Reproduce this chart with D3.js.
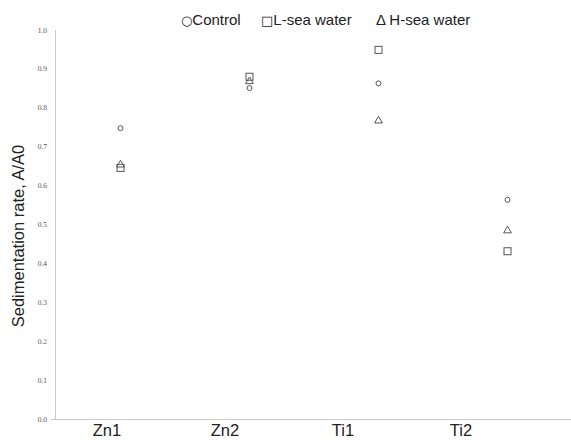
<!DOCTYPE html>
<html>
<head>
<meta charset="utf-8">
<script src="https://cdn.jsdelivr.net/npm/d3@7"></script>
<style>
  body { margin: 0; background: #fff; }
  svg { display: block; }
</style>
</head>
<body>
<div id="chart"></div>
<script>
// данные с графика
const categories = ['Zn1', 'Zn2', 'Ti1', 'Ti2'];
const control = [0.748, 0.851, 0.863, 0.564];
const lSea = [0.646, 0.880, 0.949, 0.432];
const hSea = [0.654, 0.868, 0.767, 0.485];
const yTicks = [0, 0.1, 0.2, 0.3, 0.4, 0.5, 0.6, 0.7, 0.8, 0.9, 1.0];

const width = 571, height = 440;
const svg = d3.select('#chart').append('svg')
  .attr('width', width)
  .attr('height', height);

const y = d3.scaleLinear().domain([0, 1]).range([419.5, 30]);
// точки и подписи стоят немного по-разному, как в оригинале
const xPts = d3.scalePoint().domain(categories).range([120.5, 507.5]);
const xLbl = d3.scalePoint().domain(categories).range([107, 461]);

// оси
svg.append('line')
  .attr('x1', 55.5).attr('x2', 55.5)
  .attr('y1', y(1)).attr('y2', y(0))
  .attr('stroke', '#c8c8c8').attr('stroke-width', 1);
svg.append('line')
  .attr('x1', 51).attr('x2', width)
  .attr('y1', y(0)).attr('y2', y(0))
  .attr('stroke', '#c8c8c8').attr('stroke-width', 1);

svg.append('g').selectAll('text')
  .data(yTicks)
  .join('text')
  .attr('x', 47)
  .attr('y', d => y(d) + 2.5)
  .attr('text-anchor', 'end')
  .attr('font-family', 'Liberation Serif, serif')
  .attr('font-size', 7.5)
  .attr('fill', '#555')
  .style('text-rendering', 'geometricPrecision')
  .text(d => d.toFixed(1));

svg.append('g').selectAll('text')
  .data(categories)
  .join('text')
  .attr('x', d => xLbl(d))
  .attr('y', 436)
  .attr('text-anchor', 'middle')
  .attr('font-family', 'Liberation Sans, Arial, sans-serif')
  .attr('font-size', 16.5)
  .attr('fill', '#222')
  .text(d => d);

svg.append('text')
  .attr('transform', `translate(24,236) rotate(-90)`)
  .attr('text-anchor', 'middle')
  .attr('font-family', 'Liberation Sans, Arial, sans-serif')
  .attr('font-size', 16.5)
  .attr('fill', '#222')
  .text('Sedimentation rate, A/A0');

const stroke = '#555';
const g = svg.append('g');

// квадраты
g.selectAll('rect.l')
  .data(lSea)
  .join('rect')
  .attr('class', 'l')
  .attr('x', (d, i) => xPts(categories[i]) - 3.5)
  .attr('y', d => y(d) - 3.5)
  .attr('width', 7).attr('height', 7)
  .attr('fill', 'none').attr('stroke', stroke).attr('stroke-width', 1);

// треугольники
const tri = d3.symbol().type(d3.symbolTriangle).size(26);
g.selectAll('path.h')
  .data(hSea)
  .join('path')
  .attr('class', 'h')
  .attr('transform', (d, i) => `translate(${xPts(categories[i])},${y(d)})`)
  .attr('d', tri)
  .attr('fill', 'none').attr('stroke', stroke).attr('stroke-width', 1);

// кружки
g.selectAll('circle.c')
  .data(control)
  .join('circle')
  .attr('class', 'c')
  .attr('cx', (d, i) => xPts(categories[i]))
  .attr('cy', d => y(d))
  .attr('r', 2.5)
  .attr('fill', 'none').attr('stroke', stroke).attr('stroke-width', 1);

// легенда
const legend = [
  { x: 181, sym: '○', text: 'Control' },
  { x: 261, sym: '□', text: 'L-sea water' },
  { x: 376, sym: 'Δ', text: ' H-sea water' }
];
const lt = svg.append('g').selectAll('text')
  .data(legend)
  .join('text')
  .attr('x', d => d.x)
  .attr('y', 25)
  .attr('font-family', 'Liberation Sans, Arial, sans-serif')
  .attr('font-size', 15)
  .attr('fill', '#222');
lt.append('tspan')
  .attr('font-family', d => d.sym === 'Δ' ? 'Liberation Sans, Arial, sans-serif' : 'DejaVu Sans, sans-serif')
  .attr('font-size', d => d.sym === 'Δ' ? 15 : 13)
  .text(d => d.sym);
lt.append('tspan').text(d => d.text);
</script>
</body>
</html>
